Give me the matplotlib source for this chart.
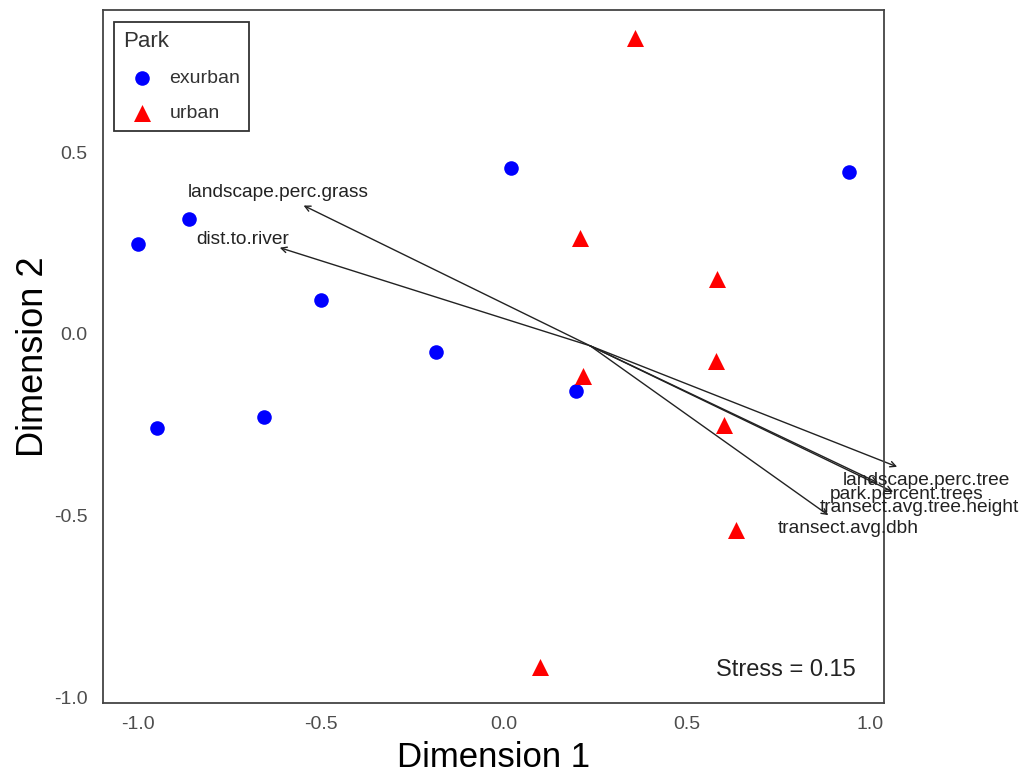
import numpy as np
import matplotlib.pyplot as plt

plt.rcParams['font.family'] = ['Liberation Sans', 'DejaVu Sans']

# NMDS site scores
ex_x = [-1.00, -0.861, -0.948, -0.657, -0.501, -0.185, 0.019, 0.196, 0.943]
ex_y = [0.248, 0.317, -0.259, -0.229, 0.094, -0.050, 0.457, -0.157, 0.446]
ur_x = [0.357, 0.207, 0.215, 0.583, 0.580, 0.602, 0.635, 0.098]
ur_y = [0.813, 0.264, -0.116, 0.152, -0.074, -0.251, -0.540, -0.917]

# envfit vectors (origin, tips, label positions)
vec_origin = (0.235, -0.033)
vec_names = ['landscape.perc.grass', 'dist.to.river', 'landscape.perc.tree',
             'park.percent.trees', 'transect.avg.tree.height', 'transect.avg.dbh']
vec_x = [-0.548, -0.613, 1.074, 1.063, 1.022, 0.886]
vec_y = [0.353, 0.237, -0.366, -0.435, -0.410, -0.499]
lab_x = [-0.616, -0.714, 1.155, 1.100, 1.135, 0.940]
lab_y = [0.388, 0.259, -0.405, -0.443, -0.477, -0.537]

stress = 0.15

fig = plt.figure(figsize=(10.28, 7.77), dpi=100)
ax = fig.add_axes([0.1002, 0.0952, 0.7597, 0.8919])

ax.scatter(ex_x, ex_y, s=110, marker='o', color='#0000FF', label='exurban', zorder=3, linewidths=0)
ax.scatter(ur_x, ur_y, s=150, marker='^', color='#FF0000', label='urban', zorder=3, linewidths=0)

for name, tx, ty, lx, ly in zip(vec_names, vec_x, vec_y, lab_x, lab_y):
    ax.annotate('', xy=(tx, ty), xytext=vec_origin, annotation_clip=False,
                arrowprops=dict(arrowstyle='->', color='#222222', lw=1.0,
                                shrinkA=0, shrinkB=0, mutation_scale=10),
                zorder=2)
    ax.text(lx, ly, name, ha='center', va='center', fontsize=13.8, color='#222222',
            clip_on=False, zorder=4)

ax.text(0.962, -0.926, f'Stress = {stress:.2f}', ha='right', va='center', fontsize=17,
        color='#222222')

ax.set_xlim(-1.096, 1.038)
ax.set_ylim(-1.016, 0.891)
ax.set_xticks([-1.0, -0.5, 0.0, 0.5, 1.0])
ax.set_yticks([-1.0, -0.5, 0.0, 0.5])
ax.set_xticklabels(['-1.0', '-0.5', '0.0', '0.5', '1.0'])
ax.set_yticklabels(['-1.0', '-0.5', '0.0', '0.5'])
ax.tick_params(axis='x', length=0, labelsize=14, colors='#4D4D4D', pad=9)
ax.tick_params(axis='y', length=0, labelsize=14, colors='#4D4D4D', pad=11)
for sp in ax.spines.values():
    sp.set_color('#444444')
    sp.set_linewidth(1.3)

ax.set_xlabel('Dimension 1', fontsize=25, labelpad=6)
ax.set_ylabel('Dimension 2', fontsize=26, labelpad=2)

leg = ax.legend(title='Park', loc='upper left', bbox_to_anchor=(0.014, 0.983),
                frameon=True, fancybox=False, edgecolor='black', fontsize=14,
                title_fontsize=16, alignment='left', handletextpad=0.4,
                borderpad=0.45, labelspacing=0.9, borderaxespad=0)
leg.get_frame().set_linewidth(1.3)
for t in leg.get_texts():
    t.set_color('#333333')
leg.get_title().set_color('#333333')

fig.savefig('out.png', dpi=100)
